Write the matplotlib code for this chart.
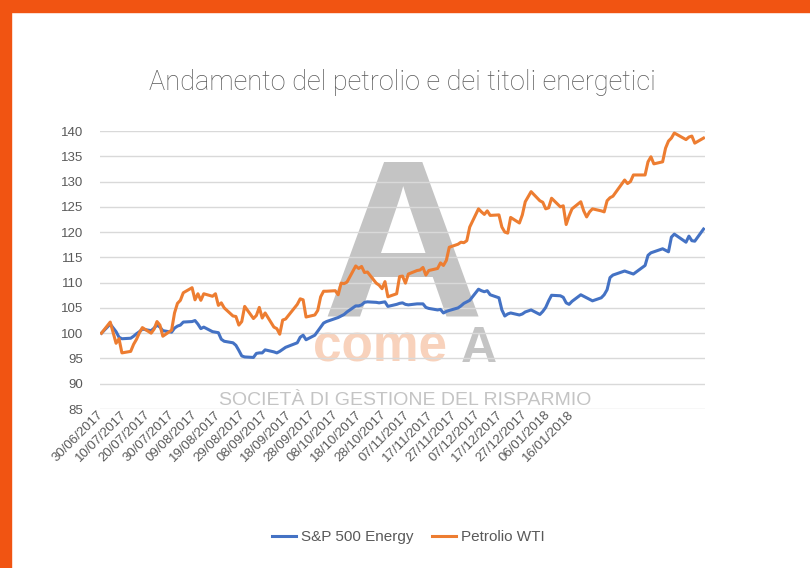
import matplotlib
matplotlib.use('Agg')
import matplotlib.pyplot as plt
import matplotlib.dates as mdates
from matplotlib.patches import Rectangle
from matplotlib.lines import Line2D
import numpy as np
import pandas as pd

# trading days shown in the chart (US market holidays removed)
holidays = ['2017-07-04', '2017-09-04', '2017-11-23', '2017-12-25',
            '2018-01-01', '2018-01-15']
dates = pd.bdate_range('2017-06-30', '2018-01-22', freq='C', holidays=holidays)

# Petrolio WTI, base 100 on 30/06/2017
wti = [100.0,
       # luglio
       102.2, 98.0, 98.9, 96.1, 96.4, 97.8, 98.8, 100.1, 101.1, 100.0,
       100.8, 102.3, 101.6, 99.4, 100.6, 104.0, 105.9, 106.5, 108.0, 109.0,
       # agosto
       106.6, 107.8, 106.5, 107.8, 107.3, 107.8, 105.5, 106.0, 105.0, 103.4,
       103.3, 101.6, 102.3, 105.3, 102.9, 103.5, 105.1, 103.0, 104.0, 101.2,
       100.9, 99.8, 102.6,
       # settembre
       102.8, 105.7, 106.8, 106.6, 103.2, 103.6, 104.5, 107.2, 108.3, 108.3,
       108.4, 107.6, 109.9, 109.8, 110.1, 113.3, 112.8, 113.2, 112.0, 112.1,
       # ottobre
       109.9, 109.5, 108.8, 110.2, 107.2, 107.8, 111.2, 111.3, 109.9, 111.7,
       112.4, 112.5, 113.0, 111.5, 112.4, 112.8, 113.9, 113.4, 114.4, 117.0,
       117.6, 118.0,
       # novembre
       117.9, 118.3, 121.0, 124.6, 124.0, 123.5, 124.2, 123.3, 123.4, 121.0,
       120.0, 119.8, 122.9, 121.8, 123.4, 126.0, 128.0, 126.2, 125.9, 124.6,
       124.8,
       # dicembre
       126.7, 125.0, 125.2, 121.5, 123.2, 124.6, 126.0, 124.2, 123.0, 124.0,
       124.6, 124.2, 124.0, 126.2, 126.8, 127.1, 130.3, 129.6, 130.0, 131.3,
       # gennaio
       131.3, 133.9, 134.9, 133.5, 133.9, 136.6, 138.0, 138.6, 139.6, 138.3,
       138.8, 139.0, 137.6, 138.6]

# S&P 500 Energy, base 100 on 30/06/2017
spx_energy = [100.0,
              # luglio
              101.8, 100.3, 99.2, 98.9, 99.0, 99.4, 99.9, 100.3, 100.8, 100.5,
              101.0, 101.6, 101.2, 100.5, 100.2, 101.0, 101.4, 101.6, 102.2, 102.3,
              # agosto
              102.5, 101.8, 100.9, 101.2, 100.3, 100.2, 100.1, 98.8, 98.4, 98.1,
              97.6, 96.6, 95.5, 95.3, 95.2, 96.0, 96.1, 96.1, 96.7, 96.3,
              96.1, 96.4, 96.8,
              # settembre
              97.2, 98.1, 99.2, 99.6, 98.7, 99.6, 100.4, 101.2, 102.0, 102.3,
              102.9, 103.1, 103.4, 103.7, 104.2, 105.4, 105.4, 105.6, 106.1, 106.2,
              # ottobre
              106.1, 106.0, 106.1, 106.2, 105.3, 105.7, 105.9, 106.0, 105.7, 105.6,
              105.8, 105.8, 105.8, 105.1, 104.9, 104.6, 104.7, 104.0, 104.3, 104.5,
              105.0, 105.4,
              # novembre
              105.9, 106.2, 106.5, 108.7, 108.4, 108.2, 108.4, 107.6, 107.0, 104.6,
              103.4, 103.8, 104.0, 103.6, 103.8, 104.2, 104.6, 103.7, 104.3, 105.1,
              106.4,
              # dicembre
              107.5, 107.4, 107.1, 106.0, 105.7, 106.3, 107.6, 107.3, 107.0, 106.7,
              106.4, 107.0, 107.6, 108.6, 111.0, 111.5, 112.3, 112.1, 111.9, 111.7,
              # gennaio
              113.4, 115.4, 115.9, 116.1, 116.7, 116.4, 116.1, 119.0, 119.6, 118.0,
              119.2, 118.3, 118.2, 120.6]

tick_dates = pd.date_range('2017-06-30', periods=21, freq='10D')
tick_labels = [d.strftime('%d/%m/%Y') for d in tick_dates]

title = 'Andamento del petrolio e dei titoli energetici'
series_names = ['S&P 500 Energy', 'Petrolio WTI']
blue, orange = '#4472C4', '#ED7D31'
grey_txt = '#595959'
sans = ['Liberation Sans', 'DejaVu Sans']

W, H = 810, 568
fig = plt.figure(figsize=(W / 100, H / 100), dpi=100)

# orange frame at top and left
fig.patches.append(Rectangle((0, 1 - 12 / H), 1, 12 / H, transform=fig.transFigure,
                             color='#F15412', zorder=5))
fig.patches.append(Rectangle((0, 0), 11 / W, 1, transform=fig.transFigure,
                             color='#F15412', zorder=5))

# watermark behind the chart
wm = dict(ha='center', va='baseline', zorder=-1, family=sans)
fig.text(403 / W, 1 - 316 / H, 'A', fontsize=162, fontweight='bold', color='#C4C4C4', **wm)
fig.text(380 / W, 1 - 362 / H, 'come', fontsize=37, fontweight='bold', color='#F8D2BC', **wm)
fig.text(479 / W, 1 - 362 / H, 'A', fontsize=36, fontweight='bold', color='#C4C4C4', **wm)
fig.text(405 / W, 1 - 405 / H, 'SOCIETÀ DI GESTIONE DEL RISPARMIO', fontsize=14,
         color='#C4C4C4', **wm)

ax = fig.add_axes([100 / W, 1 - 409 / H, 605 / W, 278 / H])
ax.patch.set_alpha(0)

x = mdates.date2num(dates)
ax.plot(x, spx_energy, color=blue, lw=2.2, solid_joinstyle='round', zorder=3)
ax.plot(x, wti, color=orange, lw=2.2, solid_joinstyle='round', zorder=3)

ax.set_ylim(85, 140)
ax.set_yticks(np.arange(85, 141, 5))
ax.set_xlim(x[0] - 0.5, x[-1] + 0.5)
ax.grid(axis='y', color='#D9D9D9', lw=1)
ax.set_axisbelow(True)
for s in ax.spines.values():
    s.set_visible(False)

# category labels as laid out in the picture
label_step = 8.05
ax.set_xticks(x[0] + np.arange(len(tick_labels)) * label_step)
ax.set_xticklabels(tick_labels, rotation=45, ha='right', va='center',
                   rotation_mode='anchor')
ax.tick_params(axis='x', length=0, pad=3, labelsize=9.5, labelcolor=grey_txt)
ax.tick_params(axis='y', length=0, pad=12, labelsize=9.5, labelcolor=grey_txt)
for t in ax.get_xticklabels() + ax.get_yticklabels():
    t.set_family(sans)

fig.text(402 / W, 1 - 82 / H, title, ha='center', va='center', fontsize=19.5,
         color=grey_txt, fontweight='light', family=['Roboto', 'DejaVu Sans'])

handles = [Line2D([], [], color=blue, lw=2.2), Line2D([], [], color=orange, lw=2.2)]
fig.legend(handles, series_names, loc='center', bbox_to_anchor=(408 / W, 1 - 537 / H),
           ncol=2, frameon=False, handlelength=1.6, handletextpad=0.3,
           columnspacing=1.2, prop={'family': sans, 'size': 11},
           labelcolor=grey_txt)

fig.savefig('out.png', dpi=100)
